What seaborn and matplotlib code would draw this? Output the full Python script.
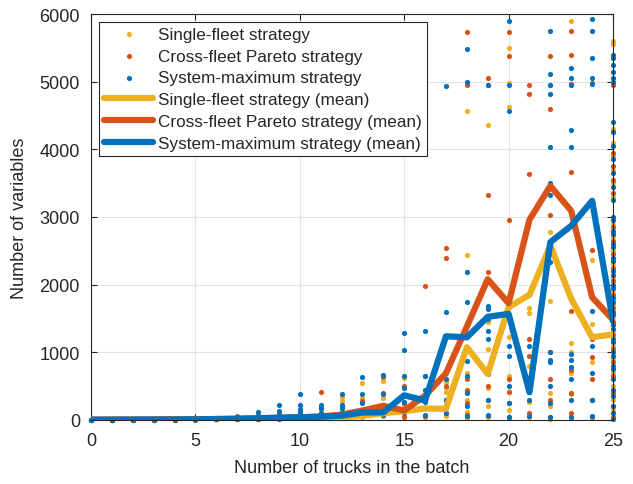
"""
Number of variables vs number of trucks in the batch, three strategies.
"""

import numpy as np
import pandas as pd
import matplotlib
matplotlib.use("Agg")
import matplotlib.pyplot as plt
import seaborn as sns

trucks = list(range(26))

# scatter samples, one list per truck count (0..25)
single_vals = [
    [0, 1, 2], [0, 2, 3], [1, 3, 5], [2, 5, 8], [3, 8, 12], [5, 10, 18],
    [8, 15, 25], [10, 25, 45], [15, 35, 70], [20, 50, 95], [25, 60, 120],
    [30, 80, 150], [40, 120, 280, 335], [50, 150, 330, 545], [60, 180, 325, 580],
    [50, 200, 620, 655], [40, 300, 655], [60, 180, 410, 480, 560],
    [30, 120, 300, 410, 700, 2185, 2445, 4570],
    [40, 200, 480, 1050, 1445, 4360],
    [30, 150, 420, 655, 1230, 4620, 4980, 5500],
    [50, 261, 800, 1580, 1650],
    [20, 200, 400, 877, 1765, 2780, 4950],
    [30, 385, 700, 1010, 1134, 5893],
    [40, 300, 853, 1420, 2360, 5350],
    [30, 150, 300, 500, 700, 900, 1100, 1300, 1500, 1700, 1900, 2100, 2300,
     2500, 2700, 2900, 3300, 3500, 3700, 3900, 4100, 4300, 5000, 5550, 5600],
]

pareto_vals = [
    [0, 1, 3], [1, 3, 5], [2, 5, 8], [3, 8, 12], [5, 10, 18], [8, 15, 25],
    [10, 20, 35], [15, 30, 55], [20, 40, 75], [25, 55, 100], [30, 70, 130],
    [40, 90, 180, 415], [50, 110, 200], [60, 150, 280], [80, 200, 400, 630],
    [40, 250, 505], [60, 300, 655, 1975], [100, 300, 505, 2390, 2545],
    [80, 250, 450, 600, 4950, 5735],
    [60, 300, 500, 700, 2190, 3330, 4950, 5060],
    [50, 250, 420, 600, 2950, 5380, 5735],
    [100, 420, 950, 1200, 3640, 4825, 4950],
    [50, 300, 600, 1000, 3030, 4593, 5380],
    [100, 400, 740, 1605, 3670, 4960, 5390, 5750],
    [50, 300, 600, 930, 1200, 2505, 4980],
    [40, 200, 400, 650, 850, 1050, 1250, 1450, 1650, 1850, 2050, 2250, 2450,
     2650, 2850, 3350, 3550, 3750, 3950, 4950],
]

sysmax_vals = [
    [0, 2, 5], [1, 3, 6], [2, 5, 9], [3, 7, 12], [5, 10, 18], [6, 12, 22],
    [8, 18, 30], [10, 25, 45], [15, 40, 115], [20, 60, 130, 215],
    [30, 100, 160, 220, 380], [40, 110, 170, 225], [50, 120, 170, 225, 380],
    [60, 150, 245, 380, 640], [70, 180, 380, 660],
    [100, 270, 480, 655, 1030, 1285], [80, 270, 450, 655, 1310],
    [100, 290, 600, 1590, 4943],
    [60, 200, 400, 655, 875, 1750, 2185, 4990, 5490],
    [80, 300, 675, 1190, 1310, 1500, 1640, 1690, 4950],
    [50, 250, 500, 940, 1100, 4570, 4950, 5890],
    [60, 300, 1090],
    [40, 250, 500, 860, 890, 1000, 2340, 3320, 3500, 4040, 4825, 4950, 5120, 5750],
    [50, 300, 600, 780, 880, 980, 4040, 4290, 4950, 5050, 5200],
    [60, 300, 700, 1090, 1605, 4960, 5060, 5350, 5750, 5930],
    [20, 100, 200, 350, 450, 600, 750, 800, 950, 1000, 1150, 1200, 1350, 1400,
     1550, 1600, 1750, 1800, 1950, 2000, 2150, 2200, 2350, 2400, 2550, 2600,
     2750, 2800, 2950, 3000, 3250, 3450, 3650, 3850, 4050, 4250, 4400, 5000,
     5050, 5150, 5250, 5350, 5400],
]

# mean curves
single_mean = [2, 3, 4, 5, 6, 8, 10, 12, 15, 20, 25, 30, 40, 60, 100, 130,
               170, 165, 1075, 680, 1667, 1850, 2580, 1790, 1223, 1265]
pareto_mean = [4, 5, 6, 7, 9, 11, 14, 18, 25, 32, 40, 50, 80, 140, 210, 140,
               360, 690, 1380, 2080, 1725, 2960, 3460, 3090, 1815, 1480]
sysmax_mean = [5, 5, 6, 7, 8, 10, 14, 18, 25, 35, 40, 50, 64, 110, 113, 365,
               288, 1237, 1222, 1525, 1568, 410, 2628, 2870, 3240, 1460]

names = ["Single-fleet strategy", "Cross-fleet Pareto strategy", "System-maximum strategy"]
colors = ["#EDB120", "#D95319", "#0072BD"]

sns.set_style("ticks")
plt.rcParams["font.family"] = ["Liberation Sans", "DejaVu Sans"]

fig = plt.figure(figsize=(6.33, 4.85), dpi=100)
ax = fig.add_axes([91 / 633, 1 - 421 / 485, (613 - 91) / 633, (421 - 15) / 485])

for name, color, vals in zip(names, colors, [single_vals, pareto_vals, sysmax_vals]):
    df = pd.DataFrame({"x": [t for t, v in zip(trucks, vals) for _ in v],
                       "y": [y for v in vals for y in v]})
    sns.scatterplot(data=df, x="x", y="y", color=color, s=14, linewidth=0,
                    label=name, ax=ax, zorder=2, clip_on=False)

for name, color, mean in zip(names, colors, [single_mean, pareto_mean, sysmax_mean]):
    sns.lineplot(x=trucks, y=mean, color=color, linewidth=4.5,
                 label=f"{name} (mean)", ax=ax, zorder=3)

ax.set_xlim(0, 25)
ax.set_ylim(0, 6000)
ax.set_xticks(np.arange(0, 26, 5))
ax.set_yticks(np.arange(0, 6001, 1000))
ax.set_xlabel("Number of trucks in the batch", fontsize=13, labelpad=7)
ax.set_ylabel("Number of variables", fontsize=13, labelpad=8)
ax.tick_params(direction="in", top=True, right=True, labelsize=13,
               length=4, width=0.8, color="#262626", labelcolor="#262626")
ax.tick_params(axis="x", pad=9)
ax.tick_params(axis="y", pad=8)
ax.grid(True, color="#e3e3e3", linewidth=0.8)
ax.set_axisbelow(True)
for sp in ax.spines.values():
    sp.set_visible(True)
    sp.set_color("#262626")
    sp.set_linewidth(0.8)

leg = ax.legend(loc="upper left", fontsize=12.3, frameon=True, fancybox=False,
                framealpha=1, edgecolor="#262626", handlelength=2.9,
                handletextpad=0.25, labelspacing=0.4, borderpad=0.3,
                borderaxespad=0.45, markerscale=1.0)
leg.get_frame().set_linewidth(0.8)

fig.savefig("out.png", dpi=100)
